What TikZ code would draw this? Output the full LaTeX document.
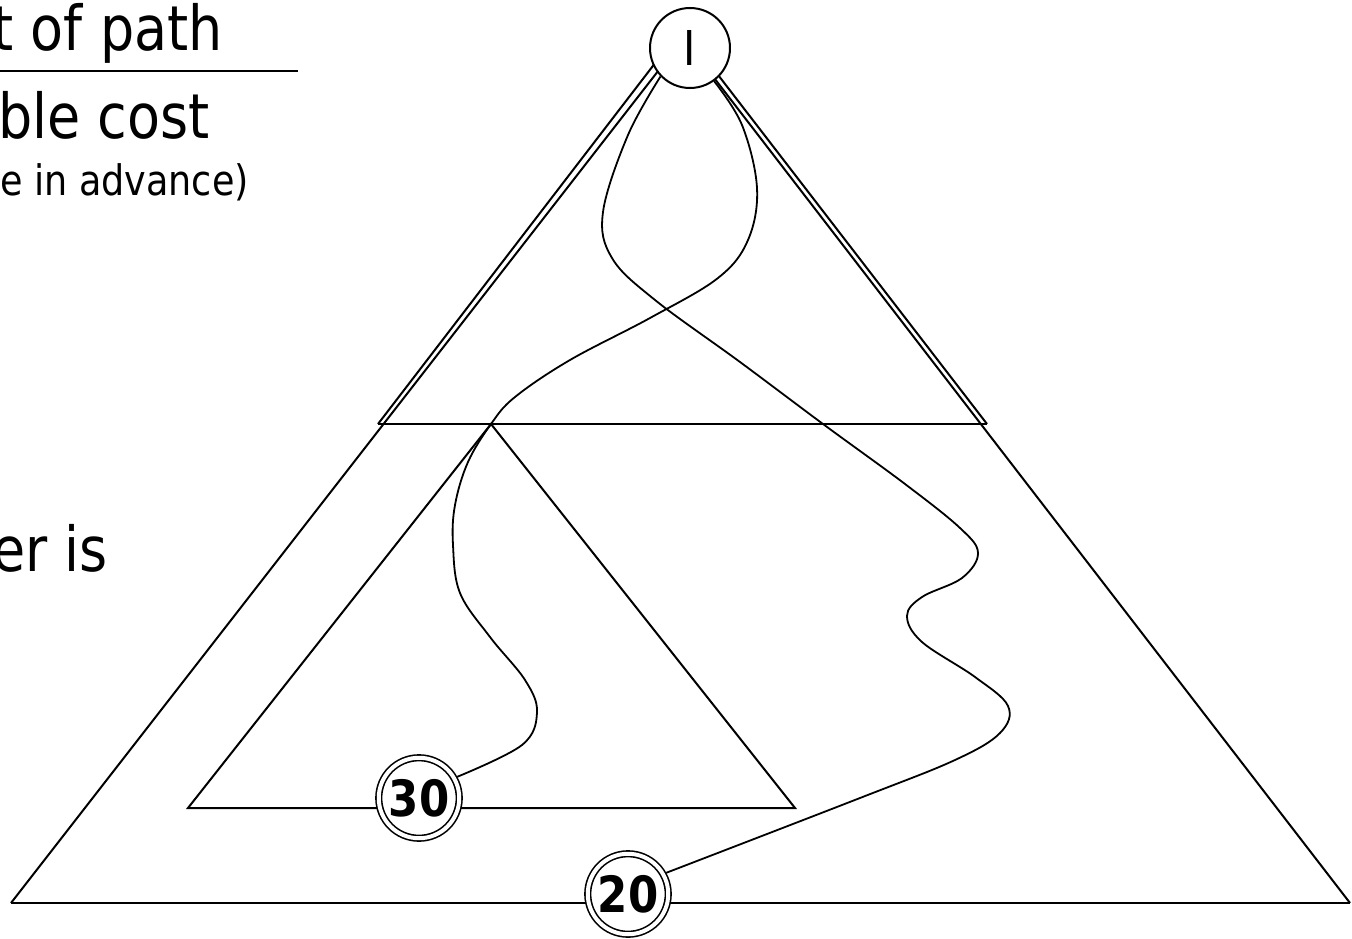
\documentclass[tikz,border=0pt]{standalone}
\usepackage{fontspec}
\newfontfamily\tah[FakeStretch=0.87]{DejaVu Sans}
\begin{document}
\begin{tikzpicture}[x=1pt,y=-1pt,
  edge/.style={line width=2pt,line join=miter},
  path curve/.style={line width=1.8pt},
  txt/.style={anchor=base east,inner sep=0pt,font=\tah\fontsize{62}{70}\selectfont},
  root/.style={circle,draw,line width=2pt,fill=white,minimum size=80pt,inner sep=0pt,font=\tah\fontsize{48}{50}\selectfont},
  goal/.style={circle,draw,double,double distance=4pt,line width=1.6pt,fill=white,minimum size=80.5pt,inner sep=0pt,outer sep=3.5pt,font=\tah\bfseries\fontsize{50}{54}\selectfont}]
\useasboundingbox (0,0) rectangle (1352,939);
\clip (0,0) rectangle (1352,939);
% text at left (cut by the picture edge)
\node[txt] (t1) at (223,51) {t of path};
\draw[line width=2pt] (0,71) -- (298,71);
\node[txt] (t2) at (210,139) {ble cost};
\node[txt,font=\tah\fontsize{42}{48}\selectfont] (t3) at (249,195) {e in advance)};
\node[txt] (t4) at (108,571) {er is};
% corner coordinates
\coordinate (BL) at (11,903);
\coordinate (BR) at (1350,903);
\coordinate (Ab) at (676,48);
\coordinate (Ab2) at (691,48);
\coordinate (TL) at (378,424);
\coordinate (TR) at (987,424);
\coordinate (At) at (659,58);
\coordinate (At2) at (705,58);
\coordinate (SA) at (491,424);
\coordinate (SL) at (188,808);
\coordinate (SR) at (795,808);
% big triangle
\draw[edge] (BL) -- (BR);
\draw[edge] (BL) -- (Ab);
\draw[edge] (BR) -- (Ab2);
% top triangle
\draw[edge] (TL) -- (TR);
\draw[edge] (TL) -- (At);
\draw[edge] (TR) -- (At2);
% sub triangle
\draw[edge] (SA) -- (SL) -- (SR) -- cycle;
% nodes
\node[root] (I) at (690,48) {I};
\node[goal] (n30) at (419,798) {30};
\node[goal] (n20) at (628,894) {20};
% paths
\draw[path curve] plot[smooth,tension=0.6] coordinates {(I.224) (628,135) (603,212) (612,258) (655,300) (740,362) (823,424) (905,484) (960,528) (978,553) (962,578) (922,597) (907,616) (922,642) (975,677) (1008,706) (1000,733) (955,760) (860,798) (n20.29)};
\draw[path curve] plot[smooth,tension=0.6] coordinates {(I.306) (742,125) (757,188) (748,240) (718,278) (650,318) (570,360) (515,397) (491,424) (468,462) (455,505) (453,545) (460,593) (490,637) (525,680) (537,712) (522,745) (n30.29)};
\end{tikzpicture}
\end{document}
